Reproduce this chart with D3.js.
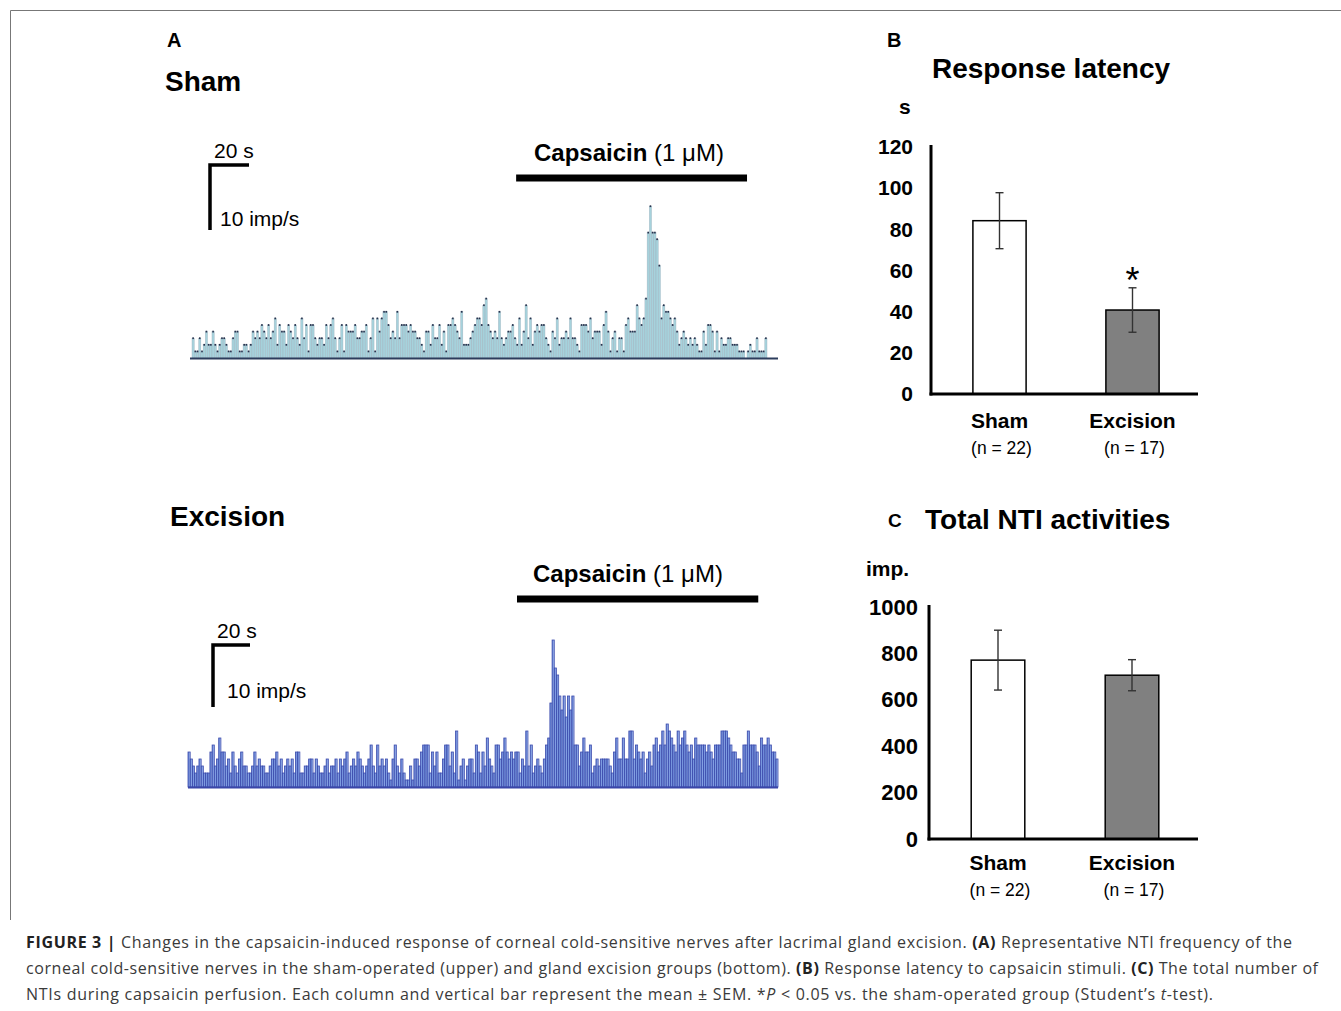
<!DOCTYPE html>
<meta charset="utf-8">
<style>

body {
  margin: 0;
  background: #fff;
}

svg {
  display: block;
  font-family: "Liberation Sans", Arial, sans-serif;
}

.caption {
  font-family: "Open Sans", sans-serif;
  font-size: 16px;
  fill: #3a3a3a;
}

</style>
<svg width="1341" height="1011"></svg>
<script src="https://d3js.org/d3.v7.min.js"></script>
<script>

// impulses per 1-s bin
var shamTrace = [
  3,1,1,3,1,2,4,2,2,4, 2,1,2,3,3,2,1,1,3,4, 4,1,1,2,2,1,2,4,3,4, 3,5,4,3,5,3,4,6,2,5,
  4,4,2,5,4,3,5,3,2,6, 3,5,1,5,5,3,2,3,3,2, 5,3,5,6,3,1,3,5,1,5, 4,4,4,5,3,3,4,4,5,1,
  3,6,1,6,4,6,7,
  7,5,3,4,3,7,3,5,5,5, 4,5,4,4,3,3,2,1,4,4, 2,5,3,3,5,2,4,1,5,5, 6,5,4,3,7,2,2,2,3,4,
  5,6,6,5,8,9,5,4,3,4, 3,7,3,2,3,4,4,5,3,2, 6,2,4,8,3,6,2,4,5,4, 5,5,3,2,1,4,3,6,2,3,
  3,4,3,6,3,3,2,1,5,
  5,5,4,6,3,4,4,4,2,5, 7,4,1,3,4,1,3,3,1,5, 6,4,4,4,8,6,5,6,9,19, 23,19,19,18,14,6,8,7,7,6,
  5,6,4,2,3,4,3,2,3,2, 3,2,1,1,4,2,5,5,4,1, 4,1,3,2,2,3,3,2,2,2, 1,1,1,0,1,2,1,1,3,1,
  1,1,3
];

var excisionTrace = [
  5,4,3,2,3,4,3,2,2,2, 5,6,3,4,7,5,5,3,4,2, 5,3,2,4,5,3,3,2,2,3, 5,3,4,3,3,2,2,3,4,4,
  5,3,4,2,3,4,3,4,2,5, 5,2,2,3,3,4,4,2,4,3, 2,2,3,4,2,3,3,4,2,4, 3,4,5,2,3,4,3,5,4,3,
  2,3,4,6,3,2,6,3,4,3,
  4,2,1,4,6,3,2,4,2,1, 1,3,1,4,4,3,5,6,6,6, 2,5,3,5,2,2,4,6,6,3, 5,2,8,1,3,4,1,3,4,4,
  2,6,5,2,5,3,7,4,3,2, 6,6,4,5,7,5,4,5,4,5, 5,2,4,3,8,3,6,2,3,4, 3,2,4,6,7,12,21,17,16,13,
  11,13,10,13,11,13,6,6,3,5, 7,
  5,5,6,2,3,4,3,4,4,4, 4,3,2,5,7,4,4,7,4,4, 8,8,4,6,5,4,5,2,4,5, 3,6,7,5,6,8,6,9,8,7,
  6,5,8,6,7,8,6,5,6,4, 7,6,6,6,6,5,6,5,4,6, 6,6,8,8,8,7,6,5,5,4, 4,2,6,6,8,6,6,6,5,3,
  7,6,6,7,6,5,5,4
];

// capsaicin perfusion, in bins [sham, excision]
var capsaicinOn = [146, 150],
    capsaicinOff = [250, 260];

var groups = ["Sham", "Excision"],
    groupN = [22, 17];

var latencyMean = [84.2, 40.8],
    latencySem = [13.6, 10.8],
    latencyTicks = [0, 20, 40, 60, 80, 100, 120];

var ntiMean = [771, 706],
    ntiSem = [129, 67],
    ntiTicks = [0, 200, 400, 600, 800, 1000];

var svg = d3.select("svg");

var defs = svg.append("defs");
var grad = defs.append("linearGradient").attr("id", "exGrad")
    .attr("x1", 0).attr("x2", 1).attr("y1", 0).attr("y2", 0);
grad.append("stop").attr("offset", "0%").attr("stop-color", "#5273cb");
grad.append("stop").attr("offset", "55%").attr("stop-color", "#7f9de2");
grad.append("stop").attr("offset", "100%").attr("stop-color", "#c3d3f4");

// frame
svg.append("path")
    .attr("d", "M10.5,920V10.5H1341")
    .attr("fill", "none")
    .attr("stroke", "#777")
    .attr("stroke-width", 1);

function label(x, y, txt, size, weight, anchor) {
  return svg.append("text")
      .attr("x", x).attr("y", y)
      .attr("font-size", size)
      .attr("font-weight", weight || "normal")
      .attr("text-anchor", anchor || "start")
      .text(txt);
}

// ---- panel A: frequency traces ----

function drawTrace(data, k, o) {
  var x = d3.scaleLinear().domain([0, data.length]).range([o.x0, o.x1]),
      y = d3.scaleLinear().domain([0, 10]).range([o.base, o.base - o.px10]),
      w = x(1) - x(0);

  var g = svg.append("g");

  g.selectAll("rect")
      .data(data)
    .enter().append("rect")
      .attr("x", function(d, i) { return x(i); })
      .attr("y", function(d) { return y(d); })
      .attr("width", w)
      .attr("height", function(d) { return y(0) - y(d); })
      .attr("fill", o.fill)
      .attr("stroke", o.stroke)
      .attr("stroke-width", o.strokeWidth);

  if (o.marker) {
    g.selectAll("rect.dot")
        .data(data)
      .enter().append("rect")
        .attr("class", "dot")
        .attr("x", function(d, i) { return x(i) + w / 2 - 0.8; })
        .attr("y", function(d) { return y(d) - 0.9; })
        .attr("width", 1.6)
        .attr("height", 1.8)
        .attr("fill", o.marker)
        .attr("display", function(d) { return d > 0 ? null : "none"; });
  }

  g.append("line")
      .attr("x1", o.lineX0).attr("x2", o.lineX1)
      .attr("y1", o.base + 0.5).attr("y2", o.base + 0.5)
      .attr("stroke", o.baseColor)
      .attr("stroke-width", 1.8);

  // capsaicin bar
  svg.append("rect")
      .attr("x", x(capsaicinOn[k]))
      .attr("width", x(capsaicinOff[k]) - x(capsaicinOn[k]))
      .attr("y", o.capY - 3.5)
      .attr("height", 7)
      .attr("fill", "#000");

  var t = svg.append("text")
      .attr("x", o.capTextX).attr("y", o.capY - 17)
      .attr("font-size", 24);
  t.append("tspan").attr("font-weight", "bold").text("Capsaicin");
  t.append("tspan").text(" (1 \u03bcM)");

  // scale bar
  var s = o.scale;
  svg.append("path")
      .attr("d", "M" + s.x + "," + (s.y + s.h) + "V" + s.y + "H" + (s.x + s.w))
      .attr("fill", "none")
      .attr("stroke", "#000")
      .attr("stroke-width", 3.5);
  label(s.x + 4, s.y - 7, "20 s", 21);
  label(s.x + s.lx, s.y + s.ly, "10 imp/s", 21);
}

label(167, 47, "A", 20, "bold");
label(165, 91, "Sham", 28, "bold");
label(170, 526, "Excision", 28, "bold");

drawTrace(shamTrace, 0, {
  x0: 192, x1: 767, base: 358, px10: 66,
  lineX0: 190, lineX1: 778,
  fill: "#a6d2dc", stroke: "#9fb1bd", strokeWidth: 0.4,
  marker: "#27324d", baseColor: "#2c3c5c",
  capY: 178, capTextX: 534,
  scale: {x: 210, y: 165, w: 39, h: 65, lx: 10, ly: 61}
});

drawTrace(excisionTrace, 1, {
  x0: 188, x1: 778, base: 787, px10: 70,
  lineX0: 188, lineX1: 778,
  fill: "url(#exGrad)", stroke: "#3d4cad", strokeWidth: 0.8,
  marker: null, baseColor: "#3a46a8",
  capY: 599, capTextX: 533,
  scale: {x: 213, y: 645, w: 37, h: 62, lx: 14, ly: 53}
});

// ---- panels B and C: bar charts ----

function drawBars(mean, sem, o) {
  var x = d3.scaleBand().domain(groups)
      .range([o.left + 2, 1199])
      .paddingInner(0.6).paddingOuter(0.3);
  var y = d3.scaleLinear().domain([0, o.max]).range([o.bottom, o.top]);

  var g = svg.append("g");

  var ya = g.append("g")
      .attr("transform", "translate(" + o.left + ",0)")
      .call(d3.axisLeft(y).tickValues(o.ticks).tickFormat(d3.format("d"))
        .tickSize(0).tickSizeOuter(0).tickPadding(o.pad));
  ya.select(".domain").attr("stroke", "#000").attr("stroke-width", 3)
      .attr("d", "M0," + (o.bottom + 1.5) + "V" + (o.top - 2));
  ya.selectAll("text")
      .attr("font-family", "'Liberation Sans', Arial, sans-serif")
      .attr("font-size", o.tickSize)
      .attr("font-weight", "bold")
      .attr("fill", "#000");

  g.selectAll("rect.bar")
      .data(groups)
    .enter().append("rect")
      .attr("class", "bar")
      .attr("x", function(d) { return x(d); })
      .attr("width", x.bandwidth())
      .attr("y", function(d, i) { return y(mean[i]); })
      .attr("height", function(d, i) { return y(0) - y(mean[i]); })
      .attr("fill", function(d, i) { return i ? "#808080" : "#fff"; })
      .attr("stroke", "#000")
      .attr("stroke-width", 1.5);

  // error bars
  var err = g.selectAll("g.err")
      .data(groups)
    .enter().append("g")
      .attr("class", "err")
      .attr("stroke", "#333")
      .attr("stroke-width", 1.4);
  err.append("line")
      .attr("x1", function(d) { return x(d) + x.bandwidth() / 2; })
      .attr("x2", function(d) { return x(d) + x.bandwidth() / 2; })
      .attr("y1", function(d, i) { return y(mean[i] - sem[i]); })
      .attr("y2", function(d, i) { return y(mean[i] + sem[i]); });
  [-1, 1].forEach(function(sg) {
    err.append("line")
        .attr("x1", function(d) { return x(d) + x.bandwidth() / 2 - 4; })
        .attr("x2", function(d) { return x(d) + x.bandwidth() / 2 + 4; })
        .attr("y1", function(d, i) { return y(mean[i] + sg * sem[i]); })
        .attr("y2", function(d, i) { return y(mean[i] + sg * sem[i]); });
  });

  g.append("line")
      .attr("x1", o.left - 1.5).attr("x2", 1198)
      .attr("y1", y(0)).attr("y2", y(0))
      .attr("stroke", "#000")
      .attr("stroke-width", 3);

  groups.forEach(function(d, i) {
    var cx = x(d) + x.bandwidth() / 2;
    label(cx, o.catY, d, 21, "bold", "middle");
    label(cx + 2, o.catY + 26, "(n = " + groupN[i] + ")", 17.5, "normal", "middle");
  });

  if (o.star) {
    label(x(o.star) + x.bandwidth() / 2, y(mean[1] + sem[1]) + 5, "*", 36, "normal", "middle");
  }
}

label(887, 47, "B", 20, "bold");
label(932, 78, "Response latency", 28, "bold");
label(899, 114, "s", 21, "bold");

drawBars(latencyMean, latencySem, {
  left: 931, top: 147, bottom: 394, max: 120,
  ticks: latencyTicks, tickSize: 21, pad: 18,
  catY: 428, star: "Excision"
});

label(888, 527, "C", 19, "bold");
label(925, 529, "Total NTI activities", 28, "bold");
label(866, 576, "imp.", 21, "bold");

drawBars(ntiMean, ntiSem, {
  left: 929, top: 607, bottom: 839, max: 1000,
  ticks: ntiTicks, tickSize: 22, pad: 11,
  catY: 870, star: null
});

// ---- caption ----

var captionLines = [
  [["b", "FIGURE 3 | "], ["", "Changes in the capsaicin-induced response of corneal cold-sensitive nerves after lacrimal gland excision. "],
   ["b", "(A)"], ["", " Representative NTI frequency of the"]],
  [["", "corneal cold-sensitive nerves in the sham-operated (upper) and gland excision groups (bottom). "],
   ["b", "(B)"], ["", " Response latency to capsaicin stimuli. "], ["b", "(C)"], ["", " The total number of"]],
  [["", "NTIs during capsaicin perfusion. Each column and vertical bar represent the mean \u00b1 SEM. *"],
   ["i", "P"], ["", " < 0.05 vs. the sham-operated group (Student\u2019s "], ["i", "t"], ["", "-test)."]]
];
var captionWidth = [1266, 1292, 1187];

captionLines.forEach(function(parts, li) {
  var t = svg.append("text")
      .attr("class", "caption")
      .attr("x", 26)
      .attr("y", 948 + li * 26)
      .attr("textLength", captionWidth[li])
      .attr("lengthAdjust", "spacing");
  parts.forEach(function(p) {
    t.append("tspan")
        .attr("font-weight", p[0] === "b" ? "bold" : null)
        .attr("font-style", p[0] === "i" ? "italic" : null)
        .attr("fill", p[0] === "b" ? "#222" : null)
        .text(p[1]);
  });
});

</script>
